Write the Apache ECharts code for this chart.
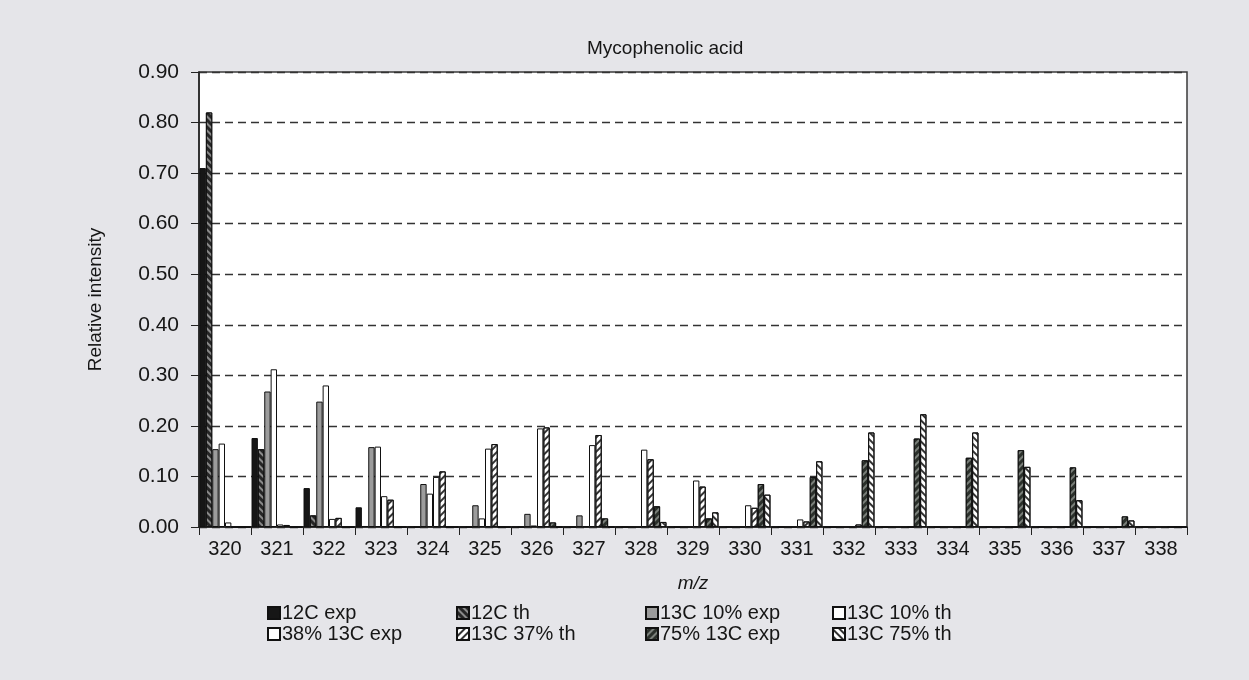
<!DOCTYPE html>
<html>
<head>
<meta charset="utf-8">
<script src="https://cdn.jsdelivr.net/npm/echarts@6/dist/echarts.min.js"></script>
<style>
html,body{margin:0;padding:0;background:#e5e5e9;}
#chart{width:1249px;height:680px;}
</style>
</head>
<body>
<div id="chart"></div>
<script>
const categories = ['320','321','322','323','324','325','326','327','328','329','330','331','332','333','334','335','336','337','338'];
const yTicks = [0, 0.1, 0.2, 0.3, 0.4, 0.5, 0.6, 0.7, 0.8, 0.9];

const c12Exp   = [0.71, 0.176, 0.077, 0.039, 0, 0, 0, 0, 0, 0, 0, 0, 0, 0, 0, 0, 0, 0, 0];
const c12Th    = [0.82, 0.154, 0.023, 0.002, 0, 0, 0, 0, 0, 0, 0, 0, 0, 0, 0, 0, 0, 0, 0];
const c13p10Exp= [0.154, 0.268, 0.248, 0.158, 0.085, 0.043, 0.026, 0.023, 0, 0, 0, 0, 0, 0, 0, 0, 0, 0, 0];
const c13p10Th = [0.165, 0.312, 0.28, 0.159, 0.066, 0.017, 0.003, 0.001, 0, 0, 0, 0, 0, 0, 0, 0, 0, 0, 0];
const p38Exp   = [0.009, 0.005, 0.016, 0.061, 0.099, 0.155, 0.195, 0.162, 0.153, 0.092, 0.043, 0.015, 0, 0, 0, 0, 0, 0, 0];
const c13p37Th = [0, 0.004, 0.018, 0.054, 0.11, 0.164, 0.197, 0.182, 0.134, 0.08, 0.038, 0.011, 0.005, 0, 0, 0, 0, 0, 0];
const p75Exp   = [0, 0, 0, 0, 0, 0, 0.009, 0.017, 0.041, 0.017, 0.085, 0.099, 0.132, 0.175, 0.137, 0.152, 0.118, 0.021, 0];
const c13p75Th = [0, 0, 0, 0, 0, 0, 0, 0, 0.01, 0.029, 0.064, 0.13, 0.187, 0.223, 0.187, 0.119, 0.053, 0.013, 0];

const seriesNames = ['12C exp','12C th','13C 10% exp','13C 10% th','38% 13C exp','13C 37% th','75% 13C exp','13C 75% th'];
const seriesData = [c12Exp, c12Th, c13p10Exp, c13p10Th, p38Exp, c13p37Th, p75Exp, c13p75Th];

function stripes(color, rot) {
  return { symbol: 'rect', symbolSize: 1, color: color, dashArrayX: [1, 0], dashArrayY: [2, 3], rotation: rot };
}
const styles = [
  { color: '#161616' },
  { color: '#262626', decal: stripes('#8a8a8a', Math.PI / 4) },
  { color: '#9c9c9c' },
  { color: '#ffffff' },
  { color: '#ffffff' },
  { color: '#ffffff', decal: stripes('#333333', -Math.PI / 4) },
  { color: '#2b302b', decal: stripes('#7a7f7a', -Math.PI / 4) },
  { color: '#ffffff', decal: stripes('#333333', Math.PI / 4) }
];

const font = 'Liberation Sans, Arial, sans-serif';
const textColor = '#161616';

const series = seriesNames.map((name, i) => ({
  name: name,
  type: 'bar',
  data: seriesData[i],
  barGap: '0%',
  barCategoryGap: '2%',
  itemStyle: Object.assign({ borderColor: '#111', borderWidth: 1 }, styles[i]),
  emphasis: { disabled: true },
  animation: false
}));

const legendCols = [[0, 4], [1, 5], [2, 6], [3, 7]];
const legendLeft = [262, 451, 640, 827];
const legends = legendCols.map((col, k) => ({
  orient: 'vertical',
  left: legendLeft[k],
  top: 598,
  itemWidth: 12,
  itemHeight: 12,
  itemGap: 1,
  icon: 'rect',
  data: col.map(i => seriesNames[i]),
  textStyle: { fontFamily: font, fontSize: 20, color: textColor, padding: [0, 0, 0, -3] },
  selectedMode: false
}));

const chart = echarts.init(document.getElementById('chart'), null, { renderer: 'canvas' });
chart.setOption({
  backgroundColor: '#e5e5e9',
  animation: false,
  title: {
    text: 'Mycophenolic acid',
    left: 582, top: 34,
    textStyle: { fontFamily: font, fontSize: 19, fontWeight: 'normal', color: textColor }
  },
  legend: legends,
  grid: {
    left: 199, right: 62, top: 72, bottom: 153,
    show: true, backgroundColor: '#ffffff', borderColor: '#3a3a3a', borderWidth: 1.5
  },
  xAxis: {
    type: 'category',
    data: categories,
    name: 'm/z',
    nameLocation: 'middle',
    nameGap: 47,
    nameTextStyle: { fontFamily: font, fontSize: 19, fontStyle: 'italic', color: textColor },
    axisLine: { lineStyle: { color: '#222', width: 1.5 } },
    axisTick: { show: true, length: 8, lineStyle: { color: '#222' } },
    axisLabel: { fontFamily: font, fontSize: 20, color: textColor, margin: 12 }
  },
  yAxis: {
    type: 'value',
    min: 0, max: 0.9, interval: 0.1,
    name: 'Relative intensity',
    nameLocation: 'middle',
    nameGap: 94,
    nameTextStyle: { fontFamily: font, fontSize: 19, color: textColor },
    axisLine: { show: true, lineStyle: { color: '#222', width: 1.5 } },
    axisTick: { show: true, length: 8, lineStyle: { color: '#222' } },
    axisLabel: {
      fontFamily: font, fontSize: 21, color: textColor, margin: 20,
      formatter: v => yTicks.some(t => Math.abs(t - v) < 1e-9) ? v.toFixed(2) : ''
    },
    splitLine: { show: true, lineStyle: { color: '#333', type: [8, 5], width: 1.3 } }
  },
  series: series
});
</script>
</body>
</html>
